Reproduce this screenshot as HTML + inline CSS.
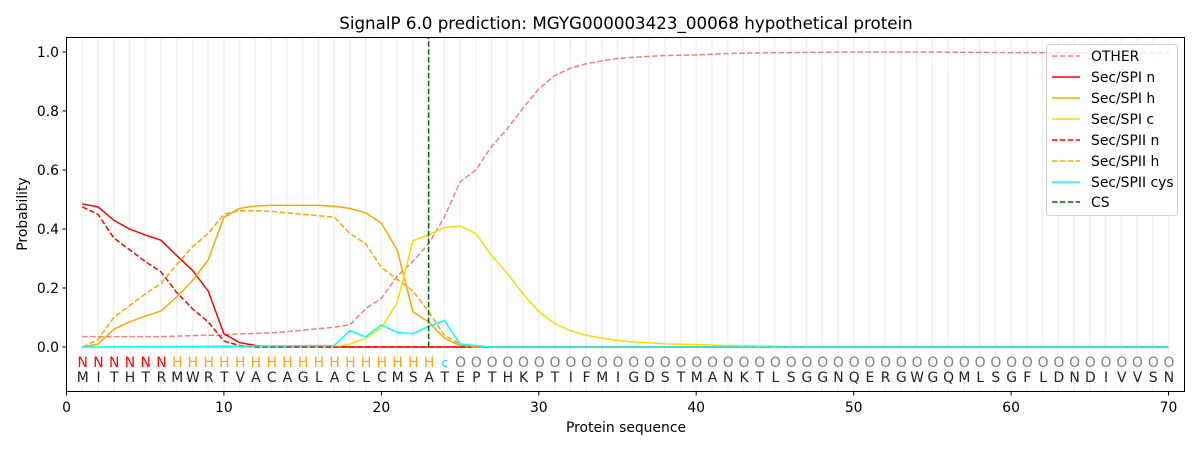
<!DOCTYPE html>
<html><head><meta charset="utf-8"><style>
html,body{margin:0;padding:0;background:#fff;}
svg{display:block;font-family:"DejaVu Sans","Liberation Sans",sans-serif;}
</style></head><body>
<svg width="1200" height="450" viewBox="0 0 1200 450">
<rect width="1200" height="450" fill="#fff"/>
<text x="626" y="29" font-size="16.7" text-anchor="middle" fill="#000">SignalP 6.0 prediction: MGYG000003423_00068 hypothetical protein</text>
<g transform="translate(66.5,347) scale(15.743,-295)" fill="none">
<path vector-effect="non-scaling-stroke" stroke="#ececec" stroke-width="1.5" opacity="0.7" d="M1 -0.15V1.05M2 -0.15V1.05M3 -0.15V1.05M4 -0.15V1.05M5 -0.15V1.05M6 -0.15V1.05M7 -0.15V1.05M8 -0.15V1.05M9 -0.15V1.05M10 -0.15V1.05M11 -0.15V1.05M12 -0.15V1.05M13 -0.15V1.05M14 -0.15V1.05M15 -0.15V1.05M16 -0.15V1.05M17 -0.15V1.05M18 -0.15V1.05M19 -0.15V1.05M20 -0.15V1.05M21 -0.15V1.05M22 -0.15V1.05M23 -0.15V1.05M24 -0.15V1.05M25 -0.15V1.05M26 -0.15V1.05M27 -0.15V1.05M28 -0.15V1.05M29 -0.15V1.05M30 -0.15V1.05M31 -0.15V1.05M32 -0.15V1.05M33 -0.15V1.05M34 -0.15V1.05M35 -0.15V1.05M36 -0.15V1.05M37 -0.15V1.05M38 -0.15V1.05M39 -0.15V1.05M40 -0.15V1.05M41 -0.15V1.05M42 -0.15V1.05M43 -0.15V1.05M44 -0.15V1.05M45 -0.15V1.05M46 -0.15V1.05M47 -0.15V1.05M48 -0.15V1.05M49 -0.15V1.05M50 -0.15V1.05M51 -0.15V1.05M52 -0.15V1.05M53 -0.15V1.05M54 -0.15V1.05M55 -0.15V1.05M56 -0.15V1.05M57 -0.15V1.05M58 -0.15V1.05M59 -0.15V1.05M60 -0.15V1.05M61 -0.15V1.05M62 -0.15V1.05M63 -0.15V1.05M64 -0.15V1.05M65 -0.15V1.05M66 -0.15V1.05M67 -0.15V1.05M68 -0.15V1.05M69 -0.15V1.05M70 -0.15V1.05"/>
<path vector-effect="non-scaling-stroke" stroke="#f08080" stroke-width="1.5" stroke-dasharray="5.5,2.4" d="M1 0.035L6 0.035L9 0.04L10 0.04L11 0.045L12 0.046L13 0.048L14 0.052L15 0.057L16 0.062L17 0.067L18 0.075L19 0.13L20 0.165L21 0.24L22 0.29L23 0.35L24 0.44L25 0.56L26 0.6L27 0.68L28 0.74L29 0.81L30 0.875L31 0.92L32 0.945L33 0.96L34 0.97L35 0.978L36 0.982L37 0.985L38 0.988L40 0.99L42 0.995L45 0.998L50 1L55 1L60 0.998L65 0.997L70 0.998"/>
<path vector-effect="non-scaling-stroke" stroke="#ff0000" stroke-width="1.5" d="M1 0.485L2 0.475L3 0.43L4 0.4L5 0.38L6 0.362L7 0.31L8 0.26L9 0.19L10 0.045L11 0.015L12 0.005L13 0L70 0"/>
<path vector-effect="non-scaling-stroke" stroke="#ffa500" stroke-width="1.5" d="M1 0L2 0.01L3 0.06L4 0.085L5 0.105L6 0.122L7 0.17L8 0.225L9 0.295L10 0.44L11 0.47L12 0.478L13 0.48L16 0.48L17 0.477L18 0.47L19 0.455L20 0.42L21 0.33L22 0.12L23 0.085L24 0.03L25 0.005L26 0L70 0"/>
<path vector-effect="non-scaling-stroke" stroke="#ffd700" stroke-width="1.5" d="M1 0L17 0L18 0.01L19 0.03L20 0.065L21 0.15L22 0.36L23 0.38L24 0.405L25 0.41L26 0.385L27 0.31L28 0.25L29 0.18L30 0.12L31 0.08L32 0.055L33 0.04L34 0.03L35 0.022L36 0.017L37 0.014L38 0.011L40 0.008L42 0.005L45 0.002L50 0L70 0"/>
<path vector-effect="non-scaling-stroke" stroke="#ff0000" stroke-width="1.5" stroke-dasharray="5.5,2.4" d="M1 0.475L2 0.45L3 0.37L4 0.33L5 0.29L6 0.255L7 0.185L8 0.13L9 0.085L10 0.02L11 0.005L12 0L70 0"/>
<path vector-effect="non-scaling-stroke" stroke="#ffa500" stroke-width="1.5" stroke-dasharray="5.5,2.4" d="M1 0L2 0.025L3 0.1L4 0.14L5 0.18L6 0.215L7 0.28L8 0.34L9 0.385L10 0.45L11 0.462L12 0.462L13 0.46L14 0.455L15 0.45L16 0.445L17 0.44L18 0.385L19 0.35L20 0.27L21 0.23L22 0.19L23 0.12L24 0.04L25 0.01L26 0L70 0"/>
<path vector-effect="non-scaling-stroke" stroke="#00ffff" stroke-width="1.5" d="M1 0L17 0.005L18 0.055L19 0.035L20 0.075L21 0.05L22 0.045L23 0.07L24 0.09L25 0.01L26 0.005L27 0L70 0"/>
<path vector-effect="non-scaling-stroke" stroke="#006400" stroke-width="1.5" stroke-dasharray="5.5,2.4" d="M23 0V1.05"/>
</g>
<rect x="66.5" y="37.5" width="1118" height="354" fill="none" stroke="#000" stroke-width="1"/>
<g font-size="13.9" text-anchor="middle">
<text y="367" fill="#ff0000" x="82.7 98.5 114.2 130.0 145.7 161.5">NNNNNN</text>
<text y="367" fill="#ffa500" x="177.2 192.9 208.7 224.4 240.2 255.9 271.7 287.4 303.1 318.9 334.6 350.4 366.1 381.9 397.6 413.3 429.1">HHHHHHHHHHHHHHHHH</text>
<text y="367" fill="#00e5e5" x="444.8" font-size="12">c</text>
<text y="367" fill="#808080" x="460.6 476.3 492.1 507.8 523.5 539.3 555.0 570.8 586.5 602.3 618.0 633.7 649.5 665.2 681.0 696.7 712.5 728.2 744.0 759.7 775.4 791.2 806.9 822.7 838.4 854.2 869.9 885.6 901.4 917.1 932.9 948.6 964.4 980.1 995.8 1011.6 1027.3 1043.1 1058.8 1074.6 1090.3 1106.0 1121.8 1137.5 1153.3 1169.0">OOOOOOOOOOOOOOOOOOOOOOOOOOOOOOOOOOOOOOOOOOOOOO</text>
<text y="382" fill="#222" x="82.7 98.5 114.2 130.0 145.7 161.5 177.2 192.9 208.7 224.4 240.2 255.9 271.7 287.4 303.1 318.9 334.6 350.4 366.1 381.9 397.6 413.3 429.1 444.8 460.6 476.3 492.1 507.8 523.5 539.3 555.0 570.8 586.5 602.3 618.0 633.7 649.5 665.2 681.0 696.7 712.5 728.2 744.0 759.7 775.4 791.2 806.9 822.7 838.4 854.2 869.9 885.6 901.4 917.1 932.9 948.6 964.4 980.1 995.8 1011.6 1027.3 1043.1 1058.8 1074.6 1090.3 1106.0 1121.8 1137.5 1153.3 1169.0">MITHTRMWRTVACAGLACLCMSATEPTHKPTIFMIGDSTMANKTLSGGNQERGWGQMLSGFLDNDIVVSN</text>
</g>
<g stroke="#000" stroke-width="1">
<path d="M66.5 391.5v4M223.9 391.5v4M381.4 391.5v4M538.8 391.5v4M696.2 391.5v4M853.7 391.5v4M1011.1 391.5v4M1168.5 391.5v4"/>
<path d="M66.5 347h-4M66.5 288h-4M66.5 229h-4M66.5 170h-4M66.5 111h-4M66.5 52h-4"/>
</g>
<g font-size="13.9" fill="#000" text-anchor="middle">
<text x="66.5" y="412">0</text><text x="223.9" y="412">10</text><text x="381.4" y="412">20</text><text x="538.8" y="412">30</text><text x="696.2" y="412">40</text><text x="853.7" y="412">50</text><text x="1011.1" y="412">60</text><text x="1168.5" y="412">70</text>
<text x="626" y="432">Protein sequence</text>
<text transform="translate(27,214) rotate(-90)">Probability</text>
</g>
<g font-size="13.9" fill="#000" text-anchor="end">
<text x="59" y="352">0.0</text><text x="59" y="293">0.2</text><text x="59" y="234">0.4</text><text x="59" y="175">0.6</text><text x="59" y="116">0.8</text><text x="59" y="57">1.0</text>
</g>
<rect x="1046.5" y="44.5" width="131" height="171" rx="3" fill="#fff" fill-opacity="0.8" stroke="#d0d0d0"/>
<g stroke-width="1.5">
<path d="M1052 56h28" stroke="#f08080" stroke-dasharray="5.5,2.4"/>
<path d="M1052 77h28" stroke="#ff0000"/>
<path d="M1052 98h28" stroke="#ffa500"/>
<path d="M1052 119h28" stroke="#ffd700"/>
<path d="M1052 140h28" stroke="#ff0000" stroke-dasharray="5.5,2.4"/>
<path d="M1052 161h28" stroke="#ffa500" stroke-dasharray="5.5,2.4"/>
<path d="M1052 182h28" stroke="#00ffff"/>
<path d="M1052 202h28" stroke="#006400" stroke-dasharray="5.5,2.4"/>
</g>
<g font-size="13.9" fill="#000">
<text x="1091" y="61">OTHER</text>
<text x="1091" y="82">Sec/SPI n</text>
<text x="1091" y="103">Sec/SPI h</text>
<text x="1091" y="124">Sec/SPI c</text>
<text x="1091" y="145">Sec/SPII n</text>
<text x="1091" y="166">Sec/SPII h</text>
<text x="1091" y="187">Sec/SPII cys</text>
<text x="1091" y="207">CS</text>
</g>
</svg>
</body></html>
